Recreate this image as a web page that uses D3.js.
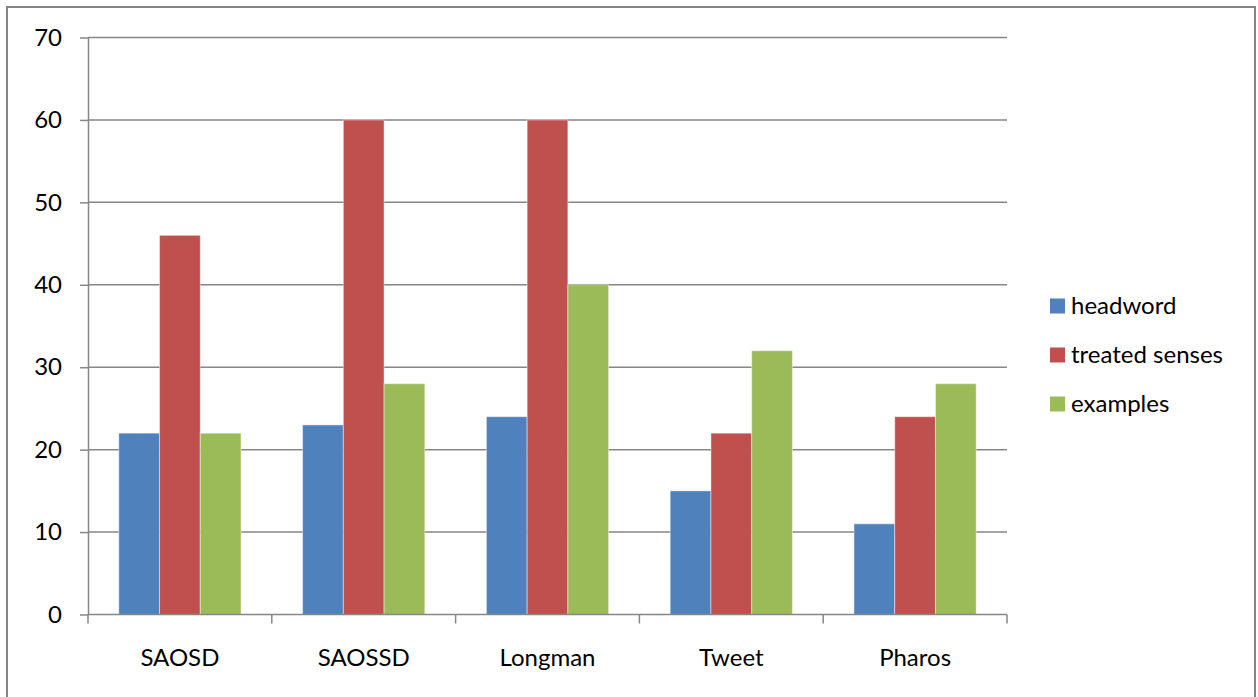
<!DOCTYPE html>
<html>
<head>
<meta charset="utf-8">
<script src="https://cdn.jsdelivr.net/npm/d3@7"></script>
<style>
  html, body { margin: 0; padding: 0; background: #fff; }
  svg { display: block; }
  text { font-family: Lato, "Open Sans", sans-serif; fill: #000; }
</style>
</head>
<body>
<svg id="chart" width="1258" height="697"></svg>
<script>
// Dictionary comparison data
const categories = ["SAOSD", "SAOSSD", "Longman", "Tweet", "Pharos"];
const seriesNames = ["headword", "treated senses", "examples"];
const headword = [22, 23, 24, 15, 11];
const treatedSenses = [46, 60, 60, 22, 24];
const examples = [22, 28, 40, 32, 28];
const yTicks = [0, 10, 20, 30, 40, 50, 60, 70];
const colors = ["#4f81bd", "#c0504d", "#9bbb59"];

const series = [headword, treatedSenses, examples];
const FONT = 24;

const svg = d3.select("#chart");
const W = 1258, H = 697;

// outer chart frame
svg.append("rect")
  .attr("x", 7).attr("y", 7)
  .attr("width", W - 10).attr("height", H + 10)
  .attr("fill", "#fff")
  .attr("stroke", "#868686")
  .attr("stroke-width", 2);

const plot = { left: 88, right: 1007, top: 37.5, bottom: 614.5 };

const x0 = d3.scaleBand()
  .domain(categories)
  .range([plot.left, plot.right])
  .paddingInner(0.335)
  .paddingOuter(0.1675);

const x1 = d3.scaleBand()
  .domain(seriesNames)
  .range([0, x0.bandwidth()]);

const y = d3.scaleLinear().domain([0, 70]).range([plot.bottom, plot.top]);

// horizontal gridlines
svg.append("g")
  .selectAll("line")
  .data(yTicks.filter(d => d > 0))
  .join("line")
  .attr("x1", plot.left).attr("x2", plot.right)
  .attr("y1", d => y(d)).attr("y2", d => y(d))
  .attr("stroke", "#868686")
  .attr("stroke-width", 1.5);

// bars
const groups = svg.append("g")
  .selectAll("g")
  .data(categories)
  .join("g")
  .attr("transform", d => `translate(${x0(d)},0)`);

groups.selectAll("rect")
  .data((c, i) => seriesNames.map((s, j) => ({ s, v: series[j][i], j })))
  .join("rect")
  .attr("x", d => x1(d.s))
  .attr("y", d => y(d.v))
  .attr("width", x1.bandwidth())
  .attr("height", d => y(0) - y(d.v))
  .attr("fill", d => colors[d.j])
  .attr("stroke", "rgba(255,255,255,0.45)")
  .attr("stroke-width", 1);

// y axis
const yAxis = svg.append("g")
  .attr("transform", `translate(${plot.left},0)`)
  .call(d3.axisLeft(y).tickValues(yTicks).tickSize(8).tickSizeOuter(0).tickPadding(18));
yAxis.select(".domain").attr("stroke", "#868686").attr("stroke-width", 1.5);
yAxis.selectAll(".tick line").attr("stroke", "#868686").attr("stroke-width", 1.5);
yAxis.selectAll(".tick text")
  .attr("font-size", FONT)
  .attr("font-family", "Lato, sans-serif")
  .attr("fill", "#000");

// x axis with boundary ticks between categories
const xAxisG = svg.append("g");
xAxisG.append("line")
  .attr("x1", plot.left).attr("x2", plot.right)
  .attr("y1", plot.bottom).attr("y2", plot.bottom)
  .attr("stroke", "#868686").attr("stroke-width", 1.5);
const bounds = d3.range(categories.length + 1).map(i => plot.left + i * (plot.right - plot.left) / categories.length);
xAxisG.selectAll("line.b")
  .data(bounds)
  .join("line")
  .attr("class", "b")
  .attr("x1", d => d).attr("x2", d => d)
  .attr("y1", plot.bottom).attr("y2", plot.bottom + 9)
  .attr("stroke", "#868686").attr("stroke-width", 1.5);
xAxisG.selectAll("text")
  .data(categories)
  .join("text")
  .attr("x", d => x0(d) + x0.bandwidth() / 2)
  .attr("y", 666)
  .attr("text-anchor", "middle")
  .attr("font-size", FONT)
  .text(d => d);

// legend
const legend = svg.append("g");
const ly = [305, 354, 403];
seriesNames.forEach((name, i) => {
  legend.append("rect")
    .attr("x", 1050).attr("y", ly[i] - 6.5)
    .attr("width", 15).attr("height", 15)
    .attr("fill", colors[i]);
  legend.append("text")
    .attr("x", 1071).attr("y", ly[i] + 8.5)
    .attr("font-size", FONT)
    .text(name);
});
</script>
</body>
</html>
